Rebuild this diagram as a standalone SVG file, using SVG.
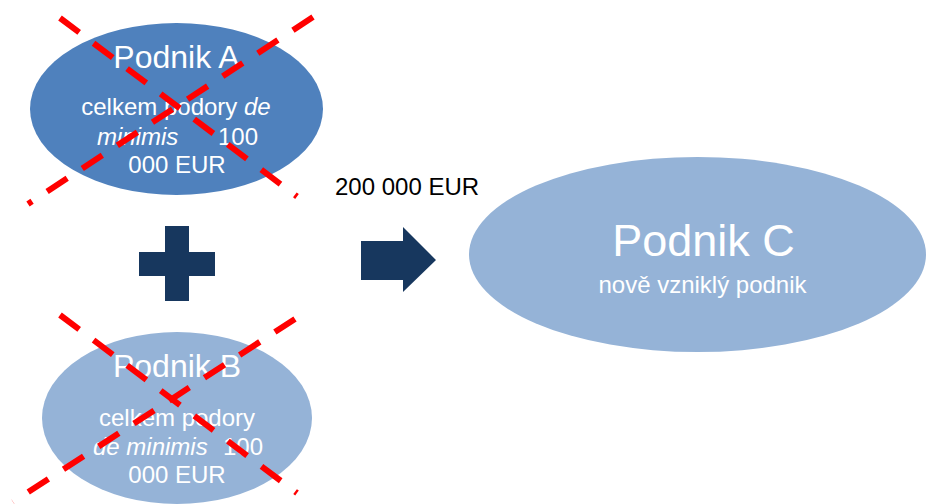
<svg xmlns="http://www.w3.org/2000/svg" width="926" height="504" viewBox="0 0 926 504">
<style>
text{font-family:"Liberation Sans",Arial,sans-serif;fill:#fff}
.t32{font-size:32px}
.t24{font-size:24px}
.t45{font-size:45px}
.it{font-style:italic}
.mid{text-anchor:middle}
.cross{stroke:#ff0000;stroke-width:6;stroke-dasharray:24 18;fill:none;stroke-linecap:butt}
.dark{fill:#17375e}
</style>
<rect width="926" height="504" fill="#fff"/>
<g id="podnik-a">
<ellipse cx="176.5" cy="109" rx="146.5" ry="86" fill="#4f81bd"/>
<text class="t32 mid" x="176.5" y="68">Podnik A</text>
<text class="t24 mid" x="176" y="115">celkem podory <tspan class="it">de</tspan></text>
<text class="t24 it" x="97" y="145">minimis</text>
<text class="t24" x="218" y="145">100</text>
<text class="t24 mid" x="177" y="173">000 EUR</text>
<line class="cross" x1="60" y1="18" x2="297" y2="196.5"/>
<line class="cross" x1="313" y1="17" x2="28" y2="204"/>
</g>
<g id="podnik-b">
<ellipse cx="177" cy="418" rx="135" ry="86" fill="#95b3d7"/>
<text class="t32 mid" x="177" y="377">Podnik B</text>
<text class="t24 mid" x="177" y="426">celkem podory</text>
<text class="t24 it" x="93" y="455">de minimis</text>
<text class="t24" x="223" y="455">100</text>
<text class="t24 mid" x="177" y="483">000 EUR</text>
<line class="cross" x1="60" y1="315" x2="297" y2="493"/>
<line class="cross" x1="295" y1="319" x2="13" y2="502"/>
</g>
<g id="plus">
<rect class="dark" x="165" y="226" width="24" height="75"/>
<rect class="dark" x="139" y="252" width="76" height="24"/>
</g>
<g id="connectors">
<polygon class="dark" points="361,241 403,241 403,227 436,260 403,292 403,280 361,280"/>
<text class="t24" x="335" y="195" style="fill:#000">200 000 EUR</text>
</g>
<g id="podnik-c">
<ellipse cx="697.5" cy="254.5" rx="228.5" ry="97.5" fill="#95b3d7"/>
<text class="t45 mid" x="703.5" y="256">Podnik C</text>
<text class="t24 mid" x="702.5" y="293">nově vzniklý podnik</text>
</g>
</svg>
